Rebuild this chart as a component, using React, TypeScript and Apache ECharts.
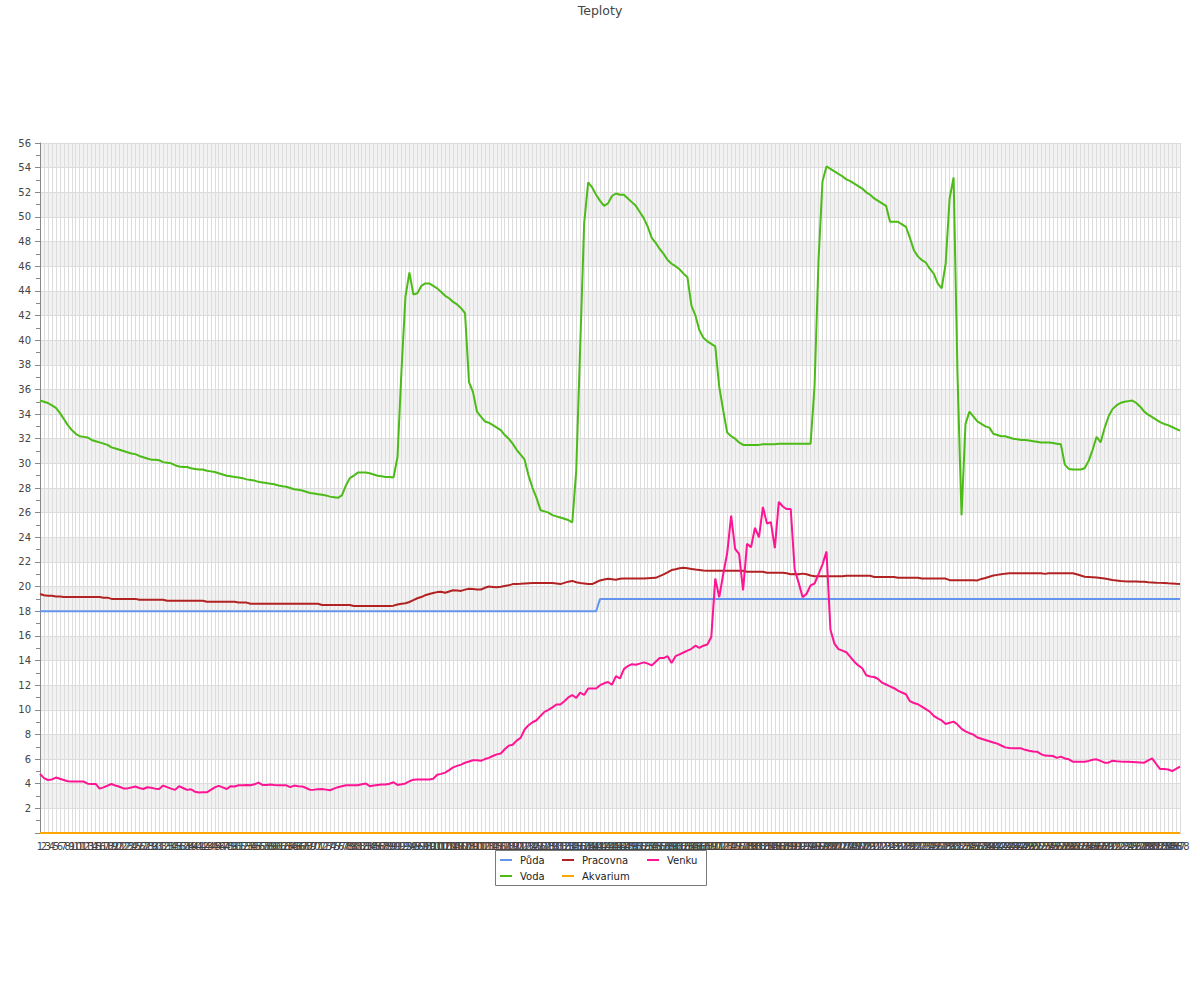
import React, { useEffect, useRef } from "react";
import * as echarts from "echarts";

const title = "Teploty";

const categories: string[] = Array.from({ length: 288 }, (_, i) => String(i + 1));

const seriesNames = ["Půda", "Voda", "Pracovna", "Akvarium", "Venku"];
const seriesColors = ["#6495ed", "#4cbb17", "#b22222", "#ffa500", "#ff1493"];

const puda = [
  18, 18, 18, 18, 18, 18, 18, 18, 18, 18, 18, 18, 18, 18, 18, 18, 18, 18, 18, 18,
  18, 18, 18, 18, 18, 18, 18, 18, 18, 18, 18, 18, 18, 18, 18, 18, 18, 18, 18, 18,
  18, 18, 18, 18, 18, 18, 18, 18, 18, 18, 18, 18, 18, 18, 18, 18, 18, 18, 18, 18,
  18, 18, 18, 18, 18, 18, 18, 18, 18, 18, 18, 18, 18, 18, 18, 18, 18, 18, 18, 18,
  18, 18, 18, 18, 18, 18, 18, 18, 18, 18, 18, 18, 18, 18, 18, 18, 18, 18, 18, 18,
  18, 18, 18, 18, 18, 18, 18, 18, 18, 18, 18, 18, 18, 18, 18, 18, 18, 18, 18, 18,
  18, 18, 18, 18, 18, 18, 18, 18, 18, 18, 18, 18, 18, 18, 18, 18, 18, 18, 18, 18,
  18, 19, 19, 19, 19, 19, 19, 19, 19, 19, 19, 19, 19, 19, 19, 19, 19, 19, 19, 19,
  19, 19, 19, 19, 19, 19, 19, 19, 19, 19, 19, 19, 19, 19, 19, 19, 19, 19, 19, 19,
  19, 19, 19, 19, 19, 19, 19, 19, 19, 19, 19, 19, 19, 19, 19, 19, 19, 19, 19, 19,
  19, 19, 19, 19, 19, 19, 19, 19, 19, 19, 19, 19, 19, 19, 19, 19, 19, 19, 19, 19,
  19, 19, 19, 19, 19, 19, 19, 19, 19, 19, 19, 19, 19, 19, 19, 19, 19, 19, 19, 19,
  19, 19, 19, 19, 19, 19, 19, 19, 19, 19, 19, 19, 19, 19, 19, 19, 19, 19, 19, 19,
  19, 19, 19, 19, 19, 19, 19, 19, 19, 19, 19, 19, 19, 19, 19, 19, 19, 19, 19, 19,
  19, 19, 19, 19, 19, 19, 19, 19,
];

const voda = [
  35.1, 35.0, 34.9, 34.7, 34.5, 34.1, 33.6, 33.1, 32.7, 32.4,
  32.2, 32.15, 32.1, 31.9, 31.8, 31.7, 31.6, 31.5, 31.3, 31.2,
  31.1, 31.0, 30.9, 30.8, 30.75, 30.6, 30.5, 30.4, 30.3, 30.3,
  30.25, 30.1, 30.05, 30.0, 29.85, 29.75, 29.7, 29.7, 29.6, 29.55,
  29.5, 29.5, 29.4, 29.35, 29.3, 29.2, 29.1, 29.0, 28.95, 28.9,
  28.85, 28.8, 28.7, 28.65, 28.6, 28.5, 28.45, 28.4, 28.35, 28.3,
  28.2, 28.15, 28.1, 28.0, 27.9, 27.85, 27.8, 27.7, 27.6, 27.55,
  27.5, 27.45, 27.4, 27.3, 27.25, 27.2, 27.4, 28.2, 28.8, 29.0,
  29.25, 29.25, 29.25, 29.2, 29.1, 29.0, 28.95, 28.9, 28.9, 28.85,
  30.5, 37.5, 43.5, 45.5, 43.7, 43.8, 44.4, 44.6, 44.6, 44.4,
  44.2, 43.9, 43.6, 43.4, 43.1, 42.9, 42.6, 42.2, 36.6, 35.8,
  34.2, 33.8, 33.4, 33.3, 33.1, 32.9, 32.7, 32.3, 32.0, 31.6,
  31.1, 30.7, 30.3, 29.0, 28.0, 27.2, 26.2, 26.1, 26.0, 25.8,
  25.7, 25.6, 25.5, 25.4, 25.2, 29.4, 39.5, 49.5, 52.8, 52.4,
  51.8, 51.3, 50.9, 51.1, 51.7, 51.9, 51.8, 51.8, 51.5, 51.2,
  50.9, 50.4, 49.9, 49.2, 48.3, 47.9, 47.4, 47.0, 46.5, 46.2,
  46.0, 45.75, 45.4, 45.1, 42.8, 42.0, 40.8, 40.2, 39.9, 39.7,
  39.5, 36.2, 34.3, 32.5, 32.2, 32.0, 31.7, 31.5, 31.5, 31.5,
  31.5, 31.5, 31.55, 31.55, 31.55, 31.55, 31.6, 31.6, 31.6, 31.6,
  31.6, 31.6, 31.6, 31.6, 31.6, 36.3, 46.5, 52.9, 54.1, 53.9,
  53.7, 53.5, 53.3, 53.05, 52.9, 52.7, 52.5, 52.3, 52.0, 51.8,
  51.5, 51.3, 51.1, 50.9, 49.6, 49.6, 49.6, 49.4, 49.2, 48.3,
  47.3, 46.8, 46.5, 46.3, 45.8, 45.4, 44.6, 44.2, 46.2, 51.5,
  53.2, 37.0, 25.8, 33.2, 34.2, 33.8, 33.4, 33.2, 33.0, 32.9,
  32.4, 32.3, 32.2, 32.2, 32.1, 32.0, 31.95, 31.9, 31.9, 31.85,
  31.8, 31.75, 31.7, 31.7, 31.7, 31.65, 31.6, 31.55, 29.9, 29.55,
  29.5, 29.5, 29.5, 29.6, 30.2, 31.1, 32.16, 31.7, 32.85, 33.8,
  34.4, 34.7, 34.9, 35.0, 35.05, 35.1, 34.9, 34.6, 34.2, 33.95,
  33.75, 33.55, 33.35, 33.2, 33.1, 32.95, 32.8, 32.65,
];

const pracovna = [
  19.4, 19.3, 19.25, 19.25, 19.2, 19.2, 19.15, 19.15, 19.15, 19.15,
  19.15, 19.15, 19.15, 19.15, 19.15, 19.15, 19.1, 19.1, 19.0, 19.0,
  19.0, 19.0, 19.0, 19.0, 19.0, 18.93, 18.93, 18.93, 18.93, 18.93,
  18.93, 18.93, 18.85, 18.85, 18.85, 18.85, 18.85, 18.85, 18.85, 18.85,
  18.85, 18.85, 18.77, 18.77, 18.77, 18.77, 18.77, 18.77, 18.77, 18.77,
  18.7, 18.7, 18.7, 18.6, 18.6, 18.6, 18.6, 18.6, 18.6, 18.6,
  18.6, 18.6, 18.6, 18.6, 18.6, 18.6, 18.6, 18.6, 18.6, 18.6,
  18.6, 18.5, 18.5, 18.5, 18.5, 18.5, 18.5, 18.5, 18.5, 18.42,
  18.42, 18.42, 18.42, 18.42, 18.42, 18.42, 18.42, 18.42, 18.42, 18.45,
  18.55, 18.6, 18.65, 18.75, 18.9, 19.05, 19.15, 19.3, 19.4, 19.48,
  19.55, 19.58, 19.5, 19.6, 19.7, 19.68, 19.65, 19.75, 19.83, 19.8,
  19.76, 19.76, 19.9, 20.0, 19.97, 19.94, 19.98, 20.04, 20.1, 20.2,
  20.2, 20.22, 20.25, 20.27, 20.29, 20.29, 20.29, 20.29, 20.29, 20.29,
  20.25, 20.2, 20.3, 20.4, 20.46, 20.35, 20.29, 20.25, 20.2, 20.2,
  20.35, 20.5, 20.58, 20.64, 20.6, 20.56, 20.64, 20.65, 20.65, 20.65,
  20.65, 20.65, 20.66, 20.68, 20.7, 20.71, 20.85, 20.99, 21.15, 21.34,
  21.4, 21.48, 21.52, 21.48, 21.43, 21.38, 21.34, 21.3, 21.28, 21.28,
  21.28, 21.28, 21.28, 21.28, 21.28, 21.28, 21.28, 21.28, 21.2, 21.2,
  21.2, 21.2, 21.2, 21.12, 21.12, 21.12, 21.12, 21.12, 21.08, 21.0,
  21.03, 21.0, 21.05, 21.0, 20.9, 20.83, 20.83, 20.83, 20.83, 20.83,
  20.83, 20.83, 20.83, 20.88, 20.88, 20.88, 20.88, 20.88, 20.88, 20.88,
  20.78, 20.78, 20.78, 20.78, 20.78, 20.78, 20.72, 20.72, 20.72, 20.72,
  20.72, 20.72, 20.65, 20.65, 20.65, 20.65, 20.65, 20.65, 20.65, 20.52,
  20.52, 20.52, 20.52, 20.52, 20.52, 20.52, 20.5, 20.62, 20.7, 20.8,
  20.9, 20.95, 21.0, 21.05, 21.08, 21.08, 21.08, 21.08, 21.08, 21.08,
  21.08, 21.08, 21.08, 21.03, 21.08, 21.08, 21.08, 21.08, 21.08, 21.08,
  21.08, 21.0, 20.9, 20.8, 20.78, 20.76, 20.73, 20.7, 20.65, 20.6,
  20.53, 20.5, 20.46, 20.43, 20.42, 20.42, 20.41, 20.4, 20.4, 20.35,
  20.33, 20.31, 20.3, 20.28, 20.26, 20.25, 20.22, 20.2,
];

const akvarium = [
  0, 0, 0, 0, 0, 0, 0, 0, 0, 0, 0, 0, 0, 0, 0, 0, 0, 0, 0, 0, 0, 0, 0, 0,
  0, 0, 0, 0, 0, 0, 0, 0, 0, 0, 0, 0, 0, 0, 0, 0, 0, 0, 0, 0, 0, 0, 0, 0,
  0, 0, 0, 0, 0, 0, 0, 0, 0, 0, 0, 0, 0, 0, 0, 0, 0, 0, 0, 0, 0, 0, 0, 0,
  0, 0, 0, 0, 0, 0, 0, 0, 0, 0, 0, 0, 0, 0, 0, 0, 0, 0, 0, 0, 0, 0, 0, 0,
  0, 0, 0, 0, 0, 0, 0, 0, 0, 0, 0, 0, 0, 0, 0, 0, 0, 0, 0, 0, 0, 0, 0, 0,
  0, 0, 0, 0, 0, 0, 0, 0, 0, 0, 0, 0, 0, 0, 0, 0, 0, 0, 0, 0, 0, 0, 0, 0,
  0, 0, 0, 0, 0, 0, 0, 0, 0, 0, 0, 0, 0, 0, 0, 0, 0, 0, 0, 0, 0, 0, 0, 0,
  0, 0, 0, 0, 0, 0, 0, 0, 0, 0, 0, 0, 0, 0, 0, 0, 0, 0, 0, 0, 0, 0, 0, 0,
  0, 0, 0, 0, 0, 0, 0, 0, 0, 0, 0, 0, 0, 0, 0, 0, 0, 0, 0, 0, 0, 0, 0, 0,
  0, 0, 0, 0, 0, 0, 0, 0, 0, 0, 0, 0, 0, 0, 0, 0, 0, 0, 0, 0, 0, 0, 0, 0,
  0, 0, 0, 0, 0, 0, 0, 0, 0, 0, 0, 0, 0, 0, 0, 0, 0, 0, 0, 0, 0, 0, 0, 0,
  0, 0, 0, 0, 0, 0, 0, 0, 0, 0, 0, 0, 0, 0, 0, 0, 0, 0, 0, 0, 0, 0, 0, 0,
];

const venku = [
  4.8, 4.45, 4.3, 4.35, 4.5, 4.4, 4.3, 4.2, 4.17, 4.17,
  4.17, 4.17, 4.0, 3.98, 3.98, 3.6, 3.7, 3.85, 3.98, 3.85,
  3.75, 3.62, 3.62, 3.7, 3.77, 3.65, 3.57, 3.71, 3.68, 3.6,
  3.57, 3.85, 3.72, 3.6, 3.5, 3.8, 3.65, 3.5, 3.55, 3.35,
  3.29, 3.3, 3.3, 3.5, 3.7, 3.82, 3.7, 3.57, 3.8, 3.77,
  3.87, 3.87, 3.9, 3.87, 3.95, 4.09, 3.9, 3.9, 3.93, 3.9,
  3.88, 3.87, 3.87, 3.72, 3.85, 3.8, 3.78, 3.65, 3.5, 3.52,
  3.55, 3.57, 3.52, 3.47, 3.6, 3.72, 3.8, 3.87, 3.87, 3.87,
  3.87, 3.95, 4.02, 3.8, 3.85, 3.9, 3.93, 3.93, 4.0, 4.12,
  3.9, 3.95, 4.02, 4.2, 4.33, 4.35, 4.35, 4.35, 4.35, 4.4,
  4.73, 4.8, 4.9, 5.1, 5.33, 5.45, 5.55, 5.7, 5.8, 5.9,
  5.9, 5.86, 6.0, 6.1, 6.25, 6.38, 6.45, 6.8, 7.09, 7.16,
  7.5, 7.72, 8.4, 8.75, 8.99, 9.15, 9.5, 9.83, 10.0, 10.2,
  10.43, 10.43, 10.7, 11.0, 11.2, 10.96, 11.4, 11.2, 11.73, 11.73,
  11.73, 12.0, 12.15, 12.26, 12.03, 12.73, 12.54, 13.3, 13.55, 13.7,
  13.65, 13.75, 13.85, 13.75, 13.6, 13.9, 14.2, 14.2, 14.35, 13.8,
  14.35, 14.5, 14.65, 14.8, 14.95, 15.2, 15.02, 15.2, 15.3, 15.9,
  20.65, 19.14, 21.0, 22.7, 25.76, 23.05, 22.66, 19.7, 23.47, 23.19,
  24.77, 24.0, 26.46, 25.12, 25.23, 23.12, 26.88, 26.5, 26.29, 26.3,
  21.36, 20.3, 19.14, 19.42, 20.1, 20.25, 21.0, 21.8, 22.84, 16.5,
  15.37, 14.92, 14.8, 14.67, 14.3, 13.9, 13.6, 13.37, 12.8, 12.7,
  12.66, 12.5, 12.2, 12.05, 11.9, 11.75, 11.55, 11.4, 11.26, 10.7,
  10.55, 10.45, 10.25, 10.05, 9.85, 9.5, 9.3, 9.14, 8.85, 8.95,
  9.04, 8.8, 8.45, 8.25, 8.1, 7.98, 7.75, 7.65, 7.55, 7.45,
  7.35, 7.25, 7.1, 6.95, 6.9, 6.88, 6.87, 6.87, 6.75, 6.68,
  6.62, 6.6, 6.4, 6.28, 6.27, 6.25, 6.1, 6.2, 6.05, 5.98,
  5.79, 5.79, 5.79, 5.79, 5.85, 5.95, 5.98, 5.85, 5.71, 5.71,
  5.87, 5.83, 5.8, 5.79, 5.79, 5.77, 5.75, 5.73, 5.71, 5.9,
  6.06, 5.6, 5.19, 5.19, 5.15, 5.03, 5.2, 5.38,
];

const seriesData = [puda, voda, pracovna, akvarium, venku];

// legend placement: [name, left, top]
const legendSlots: [string, number, number][] = [
  ["Půda", 500, 855],
  ["Pracovna", 562, 855],
  ["Venku", 647, 855],
  ["Voda", 500, 871],
  ["Akvarium", 562, 871],
];

const FONT = "DejaVu Sans";

export default function App() {
  const ref = useRef<HTMLDivElement>(null);

  useEffect(() => {
    if (!ref.current) return;
    const chart = echarts.init(ref.current, null, { renderer: "svg" });
    const option: any = {
      animation: false,
      backgroundColor: "#ffffff",
      textStyle: { fontFamily: FONT },
      title: {
        text: title,
        left: "center",
        top: 4,
        padding: 0,
        textStyle: { fontSize: 12.5, fontWeight: "normal", color: "#444", fontFamily: FONT },
      },
      grid: { left: 40, right: 20, top: 143, bottom: 167, containLabel: false },
      legend: legendSlots.map(([name, left, top]) => ({
        data: [name],
        left,
        top,
        padding: 0,
        orient: "horizontal",
        icon: "rect",
        itemWidth: 12,
        itemHeight: 2,
        selectedMode: false,
        textStyle: { fontSize: 10, color: "#222", fontFamily: FONT, padding: [0, 0, 0, 3] },
      })),
      graphic: [
        {
          type: "rect",
          shape: { x: 495.5, y: 850.5, width: 211, height: 35 },
          style: { fill: "none", stroke: "#7a7a7a", lineWidth: 1 },
          silent: true,
          z: 10,
        },
      ],
      xAxis: {
        type: "category",
        data: categories,
        boundaryGap: false,
        axisLine: { show: true, lineStyle: { color: "#888" } },
        axisTick: { show: false },
        axisLabel: { interval: 0, fontSize: 10, color: "#444", margin: 8, hideOverlap: false },
        splitLine: { show: true, interval: 0, lineStyle: { color: "#dddddd", width: 1 } },
      },
      yAxis: {
        type: "value",
        min: 0,
        max: 56,
        interval: 2,
        axisLine: { show: true, lineStyle: { color: "#888" } },
        axisTick: { show: true, length: 5, lineStyle: { color: "#888" } },
        minorTick: { show: true, splitNumber: 2, length: 4, lineStyle: { color: "#888" } },
        axisLabel: { fontSize: 10, color: "#444", margin: 9, showMinLabel: false },
        splitLine: { show: true, lineStyle: { color: "#dcdcdc" } },
        splitArea: { show: true, areaStyle: { color: ["#ffffff", "#f2f2f2"] } },
      },
      series: seriesNames.map((name, k) => ({
        name,
        type: "line",
        data: seriesData[k],
        showSymbol: false,
        symbol: "none",
        color: seriesColors[k],
        lineStyle: { width: 2, color: seriesColors[k] },
        itemStyle: { color: seriesColors[k] },
      })),
    };
    chart.setOption(option);
    return () => chart.dispose();
  }, []);

  return (
    <div
      ref={ref}
      style={{ position: "fixed", left: 0, top: 0, width: 1200, height: 1000 }}
    />
  );
}
